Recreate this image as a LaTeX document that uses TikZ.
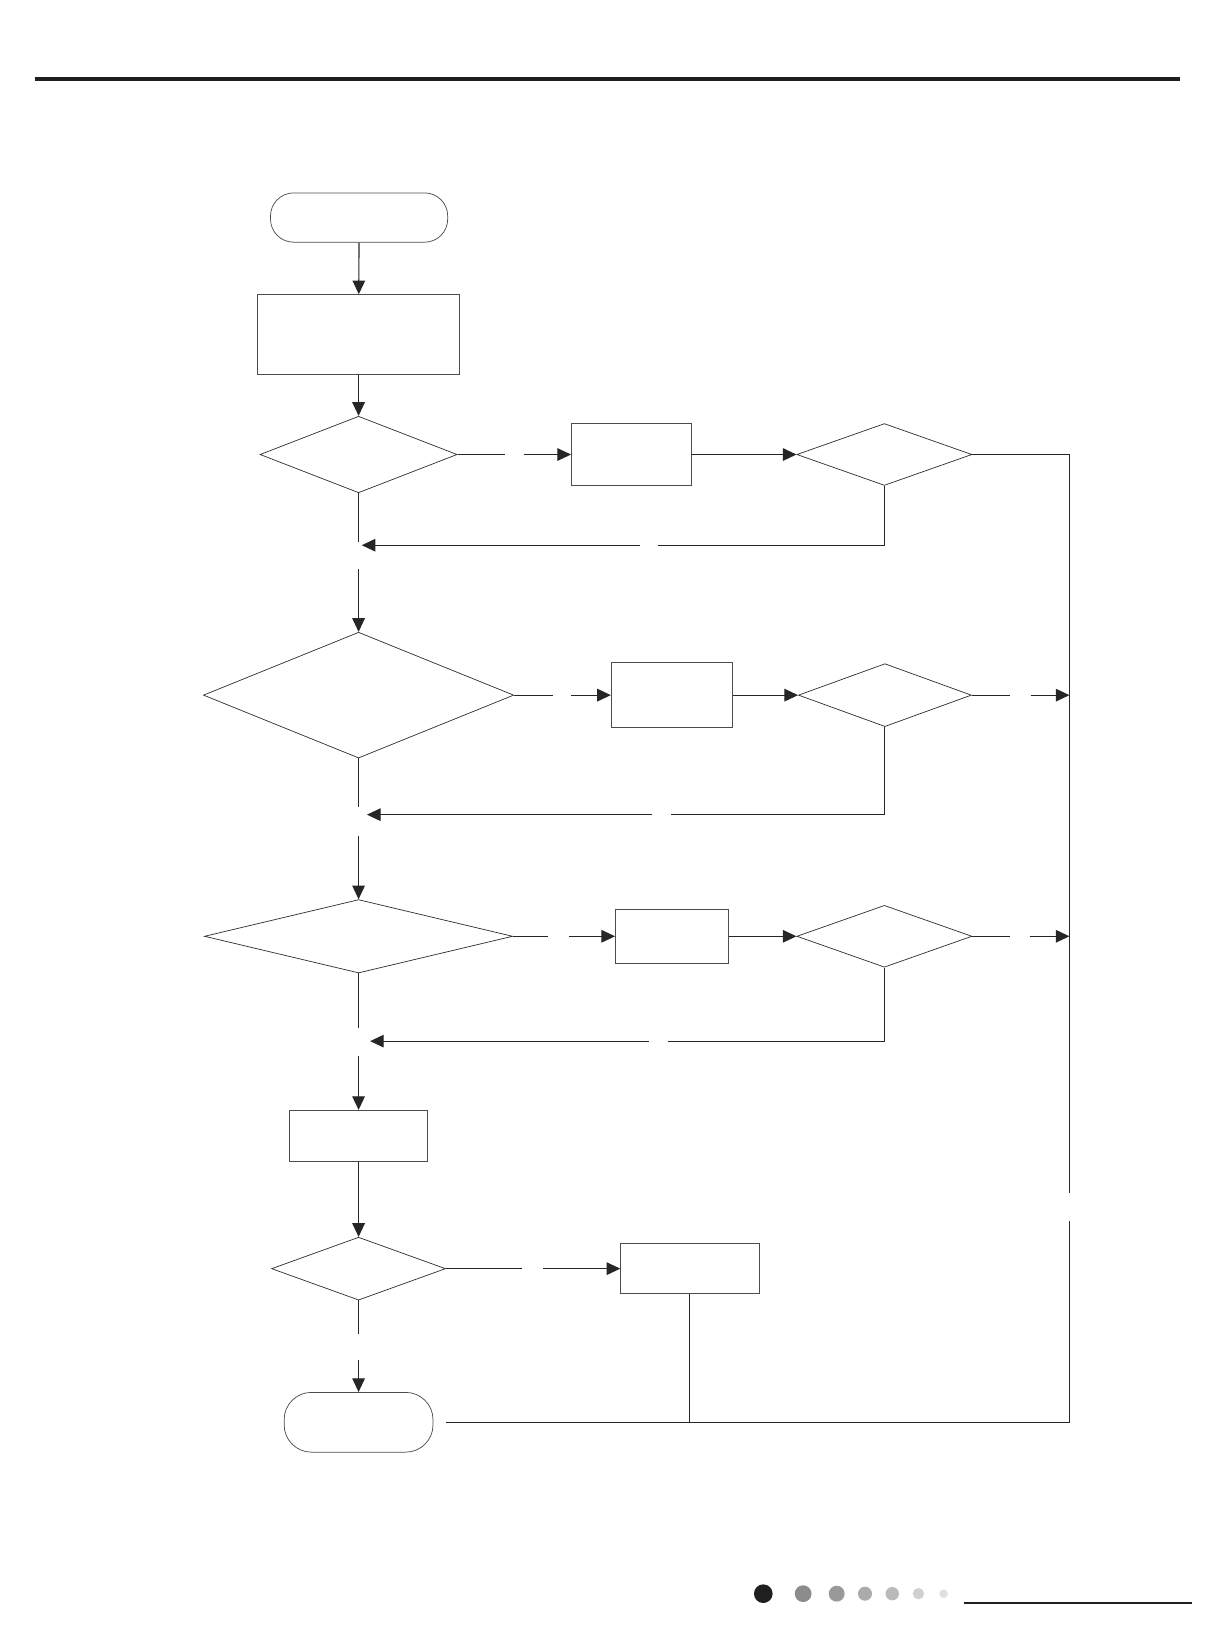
\documentclass[tikz,border=0pt]{standalone}
\usetikzlibrary{arrows.meta,shapes.geometric}
\begin{document}
\begin{tikzpicture}[x=1pt,y=-1pt,
  conn/.style={line width=1.1pt, draw=black!85},
  arr/.style={conn, -{Triangle[length=13pt,width=12pt]}},
  boxn/.style={draw=black!70, line width=0.8pt, rectangle, inner sep=0pt},
  dia/.style={draw=black!80, line width=0.7pt, diamond, inner sep=0pt},
  term/.style={draw=black!70, line width=0.7pt, rectangle, rounded corners=22pt, inner sep=0pt}]
\useasboundingbox (0,0) rectangle (1157,1568);
% header rule
\draw[line width=3.8pt, black!88] (33,75) -- (1125,75);
% nodes
\node[term, minimum width=169pt, minimum height=47pt] (start) at (342.5,207.5) {};
\node[boxn, minimum width=193pt, minimum height=76pt] (b1) at (342,319) {};
\node[dia, minimum width=188pt, minimum height=73pt] (d1) at (342,433.5) {};
\node[boxn, minimum width=114pt, minimum height=59pt] (b2) at (602,433.5) {};
\node[dia, minimum width=167pt, minimum height=59pt] (d2) at (843.5,433.5) {};
\node[dia, minimum width=296pt, minimum height=120pt] (d3) at (342,663) {};
\node[boxn, minimum width=116pt, minimum height=62pt] (b3) at (641,663) {};
\node[dia, minimum width=165pt, minimum height=60pt] (d4) at (844,663) {};
\node[dia, minimum width=294pt, minimum height=70pt] (d5) at (342,893) {};
\node[boxn, minimum width=108pt, minimum height=51pt] (b4) at (641,893) {};
\node[dia, minimum width=167pt, minimum height=59pt] (d6) at (843.5,893) {};
\node[boxn, minimum width=131pt, minimum height=49pt] (b5) at (342,1083.5) {};
\node[dia, minimum width=166pt, minimum height=60pt] (d7) at (342,1210) {};
\node[boxn, minimum width=132pt, minimum height=48pt] (b6) at (658,1210) {};
\node[term, rounded corners=26pt, minimum width=142pt, minimum height=57pt] (end) at (342,1356.5) {};
% coordinates for gaps
\coordinate (g1a) at (482,433.5); \coordinate (g1b) at (500,433.5);
\coordinate (rg1) at (1020,1138); \coordinate (rg2) at (1020,1165);
\coordinate (eR) at (425,1356.5);
\coordinate (l1a) at (628,520); \coordinate (l1b) at (610,520); \coordinate (l1t) at (345,520);
\coordinate (m1a) at (342,517); \coordinate (m1b) at (342,543);
\coordinate (g3a) at (527,663); \coordinate (g3b) at (545,663);
\coordinate (g4a) at (963,663); \coordinate (g4b) at (983,663); \coordinate (r4) at (1020,663);
\coordinate (l2a) at (640,777); \coordinate (l2b) at (622,777); \coordinate (l2t) at (350,777);
\coordinate (m2a) at (342,770); \coordinate (m2b) at (342,797);
\coordinate (g5a) at (523,893); \coordinate (g5b) at (543,893);
\coordinate (g6a) at (963,893); \coordinate (g6b) at (982,893); \coordinate (r6) at (1020,893);
\coordinate (l3a) at (637,993); \coordinate (l3b) at (619,993); \coordinate (l3t) at (353,993);
\coordinate (m3a) at (342,980); \coordinate (m3b) at (342,1007);
\coordinate (g7a) at (498,1210); \coordinate (g7b) at (518,1210);
\coordinate (j6) at (658,1356.5);
\coordinate (m4a) at (342,1272); \coordinate (m4b) at (342,1297);
% connectors
\draw[arr] (start) -- (b1);
\draw[arr] (b1) -- (d1);
\draw[conn] (d1.east) -- (g1a);
\draw[arr] (g1b) -- (b2.west);
\draw[arr] (b2) -- (d2);
\draw[conn] (d2.east) -| (rg1);
\draw[conn] (rg2) |- (eR);
\draw[conn] (d2.south) |- (l1a);
\draw[arr] (l1b) -- (l1t);
\draw[conn] (d1.south) -- (m1a);
\draw[arr] (m1b) -- (d3.north);
\draw[conn] (d3.east) -- (g3a);
\draw[arr] (g3b) -- (b3.west);
\draw[arr] (b3) -- (d4);
\draw[conn] (d4.east) -- (g4a);
\draw[arr] (g4b) -- (r4);
\draw[conn] (d4.south) |- (l2a);
\draw[arr] (l2b) -- (l2t);
\draw[conn] (d3.south) -- (m2a);
\draw[arr] (m2b) -- (d5.north);
\draw[conn] (d5.east) -- (g5a);
\draw[arr] (g5b) -- (b4.west);
\draw[arr] (b4) -- (d6);
\draw[conn] (d6.east) -- (g6a);
\draw[arr] (g6b) -- (r6);
\draw[conn] (d6.south) |- (l3a);
\draw[arr] (l3b) -- (l3t);
\draw[conn] (d5.south) -- (m3a);
\draw[arr] (m3b) -- (b5.north);
\draw[arr] (b5) -- (d7);
\draw[conn] (d7.east) -- (g7a);
\draw[arr] (g7b) -- (b6.west);
\draw[conn] (b6.south) -- (j6);
\draw[conn] (d7.south) -- (m4a);
\draw[arr] (m4b) -- (end.north);
% footer
\fill[black!88] (728,1520) circle[radius=8.9pt];
\fill[black!45] (766,1520) circle[radius=8pt];
\fill[black!40] (798,1520) circle[radius=7.6pt];
\fill[black!33] (825,1520) circle[radius=6.7pt];
\fill[black!27] (851,1520) circle[radius=6.4pt];
\fill[black!19] (876,1520) circle[radius=5.4pt];
\fill[black!12] (900,1520) circle[radius=4.1pt];
\draw[line width=2pt, black!88] (919,1529) -- (1137,1529);
\end{tikzpicture}
\end{document}
